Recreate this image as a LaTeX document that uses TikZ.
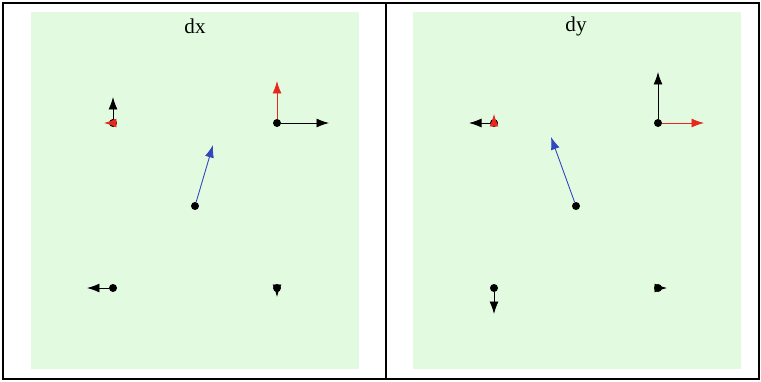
\documentclass[tikz,border=0pt]{standalone}
\usepackage{fontspec}
\setmainfont{Liberation Serif}
\usetikzlibrary{arrows.meta}
\definecolor{panelgreen}{RGB}{226,250,224}
\definecolor{vecred}{RGB}{230,40,30}
\definecolor{vecblue}{RGB}{50,70,190}
\tikzstyle{vx}=[shape=circle, minimum size=1.6mm, inner sep=0, fill=black]
\tikzstyle{vec}=[line width=0.5pt, -{Latex[length=2.5mm, width=1.8mm]}]
\tikzstyle{panel}=[fill=panelgreen, draw=none]

\begin{document}
\begin{tikzpicture}[x=0.02cm, y=-0.02cm]
\useasboundingbox (0,0) rectangle (761,382);
\draw[line width=1.2pt] (3,3) rectangle (759,379);
\draw[line width=1pt] (386,3) -- (386,379);
\fill[panel] (31,12) rectangle (359,369);
\fill[panel] (413,12) rectangle (741,369);
\node[font=\large] (tx) at (195,26) {dx};
\node[font=\large] (ty) at (576,26) {dy};
% points of the two panels
\foreach \p/\x in {L/0, R/381}
{
\node[vx] (\p1) at (113+\x,123) {};
\node[vx] (\p2) at (277+\x,123) {};
\node[vx] (\p3) at (195+\x,206) {};
\node[vx] (\p4) at (113+\x,288) {};
\node[vx] (\p5) at (277+\x,288) {};
}
% dx
\coordinate (La) at (113,97);
\coordinate (Lb) at (104,123);
\coordinate (Lc) at (277,81);
\coordinate (Ld) at (329,123);
\coordinate (Le) at (213,145);
\coordinate (Lf) at (87,288);
\coordinate (Lg) at (277,297);
\draw[vec] (L1) -- (La);
\draw[vec, vecred] (L1) -- (Lb);
\draw[vec, vecred] (L2) -- (Lc);
\draw[vec] (L2) -- (Ld);
\draw[vec, vecblue] (L3) -- (Le);
\draw[vec] (L4) -- (Lf);
\draw[vec] (L5) -- (Lg);
% dy
\coordinate (Ra) at (469,123);
\coordinate (Rb) at (494,114);
\coordinate (Rc) at (658,72);
\coordinate (Rd) at (704,123);
\coordinate (Re) at (551,137);
\coordinate (Rf) at (494,314);
\coordinate (Rg) at (667,288);
\draw[vec] (R1) -- (Ra);
\draw[vec, vecred] (R1) -- (Rb);
\draw[vec] (R2) -- (Rc);
\draw[vec, vecred] (R2) -- (Rd);
\draw[vec, vecblue] (R3) -- (Re);
\draw[vec] (R4) -- (Rf);
\draw[vec] (R5) -- (Rg);
\end{tikzpicture}
\end{document}
